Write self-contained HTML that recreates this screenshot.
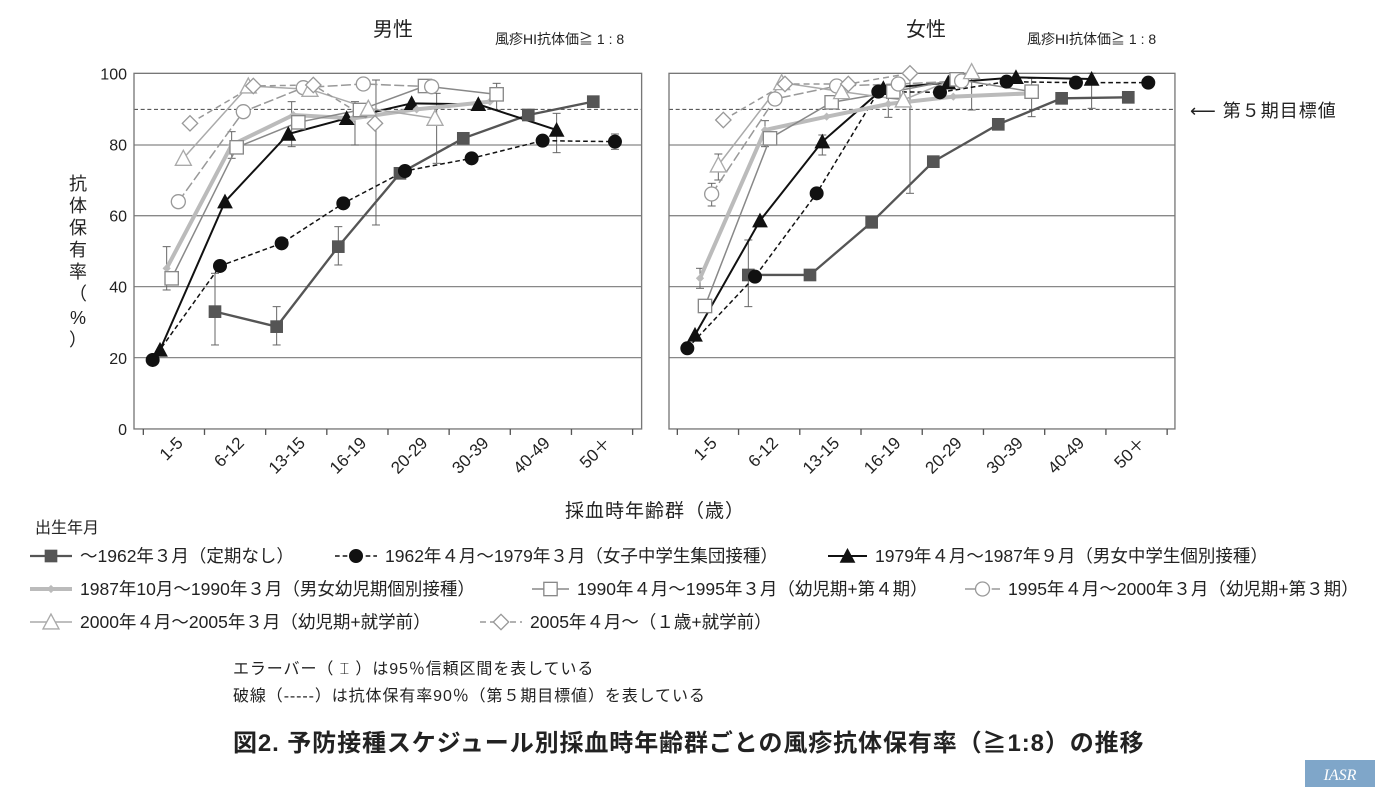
<!DOCTYPE html>
<html><head><meta charset="utf-8"><style>
body{margin:0;background:#fff;}
svg text{font-family:"Liberation Sans","Noto Sans CJK JP",sans-serif;fill:#222;}
</style></head><body>
<svg id="s" width="1400" height="797" xmlns="http://www.w3.org/2000/svg">
<text x="393" y="36" font-size="20" text-anchor="middle">男性</text>
<text x="495" y="44" font-size="14">風疹HI抗体価≧ 1 : 8</text>
<text x="926" y="36" font-size="20" text-anchor="middle">女性</text>
<text x="1027" y="44" font-size="14">風疹HI抗体価≧ 1 : 8</text>
<text x="1190" y="117" font-size="18" letter-spacing="1">⟵ 第５期目標値</text>
<g font-size="18" text-anchor="middle">
<text x="78" y="190">抗</text><text x="78" y="212">体</text><text x="78" y="234">保</text><text x="78" y="256">有</text><text x="78" y="278">率</text>
<text x="78" y="300">（</text><text x="78" y="324">%</text><text x="78" y="346">）</text></g>
<text x="655" y="517" font-size="19" text-anchor="middle" letter-spacing="1">採血時年齢群（歳）</text>
<text x="35" y="533" font-size="16">出生年月</text>
<g id="leg" font-size="17.5"></g>
<text x="233" y="674" font-size="16" letter-spacing="0.9">エラーバー（ ⌶ ）は95％信頼区間を表している</text>
<text x="233" y="701" font-size="16" letter-spacing="0.9">破線（-----）は抗体保有率90％（第５期目標値）を表している</text>
<text x="233" y="751" font-size="24" font-weight="bold" letter-spacing="0.9">図2. 予防接種スケジュール別採血時年齢群ごとの風疹抗体保有率（≧1:8）の推移</text>
<rect x="1305" y="760" width="70" height="27" fill="#7fa6c9"/>
<text x="1340" y="780" font-size="16" font-style="italic" text-anchor="middle" style="fill:#fff;font-family:'Liberation Serif',serif">IASR</text>
</svg>
<script>
const S=document.getElementById('s'),NS='http://www.w3.org/2000/svg';
function el(t,a,p){const e=document.createElementNS(NS,t);for(const k in a)e.setAttribute(k,a[k]);(p||S).appendChild(e);return e;}
const st=[
{c:'#555',w:7,d:'',m:'sq',f:'#555',s:36},
{c:'#111',w:4.5,d:'14 9',m:'ci',f:'#111',s:20},
{c:'#111',w:6,d:'',m:'tr',f:'#111',s:44},
{c:'#bbb',w:12,d:'',m:'di',f:'#bbb',s:22},
{c:'#888',w:4.5,d:'',m:'sq',f:'#fff',s:40},
{c:'#999',w:4.5,d:'30 10',m:'ci',f:'#fff',s:21},
{c:'#aaa',w:4.5,d:'',m:'tr',f:'#fff',s:48},
{c:'#999',w:4.5,d:'18 12',m:'di',f:'#fff',s:46}];
function mk(g,t,x,y,o,sc){const s=o.s*sc,sw=(o.f=='#fff'?4:2)*sc;
 if(o.m=='sq')el('rect',{x:x-s/2,y:y-s/2,width:s,height:s,fill:o.f,stroke:o.c,'stroke-width':sw},g);
 if(o.m=='ci')el('circle',{cx:x,cy:y,r:s,fill:o.f,stroke:o.c,'stroke-width':sw},g);
 if(o.m=='tr')el('polygon',{points:`${x},${y-s/2} ${x-s/2},${y+s/2.3} ${x+s/2},${y+s/2.3}`,fill:o.f,stroke:o.c,'stroke-width':sw},g);
 if(o.m=='di')el('polygon',{points:`${x},${y-s/2} ${x+s/2},${y} ${x},${y+s/2} ${x-s/2},${y}`,fill:o.f,stroke:o.c,'stroke-width':sw},g);}
function panel(ox,oy,X0,W,ticks,data,errs,labels){
 const g=el('g',{transform:`translate(${ox},${oy}) scale(0.3333)`});
 [255,467,680,893].forEach(y=>el('line',{x1:X0,x2:W,y1:y,y2:y,stroke:'#888','stroke-width':4},g));
 el('line',{x1:X0,x2:W,y1:148,y2:148,stroke:'#444','stroke-width':3,'stroke-dasharray':'12 8'},g);
 el('rect',{x:X0,y:40,width:W-X0,height:1067,fill:'none',stroke:'#777','stroke-width':4},g);
 ticks.forEach(x=>el('line',{x1:x,x2:x,y1:1107,y2:1125,stroke:'#555','stroke-width':4},g));
 errs.forEach(e=>{el('line',{x1:e[0],x2:e[0],y1:e[1],y2:e[2],stroke:'#666','stroke-width':3},g);
  [e[1],e[2]].forEach(y=>el('line',{x1:e[0]-12,x2:e[0]+12,y1:y,y2:y,stroke:'#666','stroke-width':3},g));});
 data.forEach((pts,i)=>{const o=st[i];
  el('polyline',{points:pts.map(p=>p.join(',')).join(' '),fill:'none',stroke:o.c,'stroke-width':o.w,'stroke-dasharray':o.d},g);});
 data.forEach((pts,i)=>pts.forEach(p=>mk(g,0,p[0],p[1],st[i],1)));
 for(let i=0;i<8;i++){const cx=(ticks[i]+ticks[i+1])/2;
  const t=el('text',{'font-size':17,'text-anchor':'end',transform:`translate(${ox+cx/3+10},${oy+384}) rotate(-45)`});t.textContent=labels[i];}
}
const L=['1-5','6-12','13-15','16-19','20-29','30-39','40-49','50＋'];
const tl=[0,1,2,3,4,5,6,7,8].map(i=>40+i*183.5);
panel(130,60,12,1535,tl,[
[[255,755],[440,800],[625,560],[810,340],[1000,235],[1195,165],[1390,125]],
[[68,900],[270,618],[455,550],[640,430],[825,333],[1025,295],[1238,242],[1455,245]],
[[90,870],[285,425],[475,222],[650,175],[845,130],[1045,133],[1280,210]],
[[110,625],[305,255],[490,165],[670,175],[860,148],[1080,125]],
[[125,655],[320,262],[505,187],[690,150],[885,78],[1100,103]],
[[145,425],[340,155],[520,83],[700,72],[905,80]],
[[160,295],[355,78],[540,88],[715,145],[915,175]],
[[180,190],[370,78],[550,75],[735,190]]],
[[255,640,855],[440,740,855],[625,500,615],[110,560,690],[675,125,255],[738,60,495],[920,100,310],[1280,160,278],[1455,222,268],[485,125,260],[305,215,295],[1100,70,150]],L);
const tr=[0,1,2,3,4,5,6,7,8].map(i=>52+i*183.7);
panel(660,60,27,1545,tr,[
[[265,645],[450,645],[635,487],[820,305],[1015,193],[1205,115],[1405,112]],
[[82,865],[285,650],[470,400],[655,95],[840,97],[1040,65],[1248,68],[1465,68]],
[[105,825],[300,482],[487,245],[670,85],[865,68],[1068,52],[1295,57]],
[[120,655],[315,210],[500,170],[685,132],[880,110],[1110,100]],
[[135,738],[330,235],[515,127],[700,95],[890,58],[1115,95]],
[[155,402],[345,117],[530,78],[715,72],[905,63]],
[[175,315],[365,68],[545,95],[730,120],[935,35]],
[[190,180],[375,72],[565,72],[750,40]]],
[[265,540,740],[750,40,400],[935,45,150],[1115,55,170],[1295,40,145],[120,625,685],[315,182,260],[487,225,285],[685,100,172],[155,370,438],[175,282,360]],L);
[100,80,60,40,20,0].forEach(v=>{const t=el('text',{x:127,y:60+(40+(100-v)*10.67)/3+6,'font-size':16,'text-anchor':'end'});t.textContent=v;});
const leg=document.getElementById('leg');
const items=[[0,30,80,556,'～1962年３月（定期なし）'],[1,335,385,556,'1962年４月～1979年３月（女子中学生集団接種）'],[2,828,875,556,'1979年４月～1987年９月（男女中学生個別接種）'],
[3,30,80,589,'1987年10月～1990年３月（男女幼児期個別接種）'],[4,532,577,589,'1990年４月～1995年３月（幼児期+第４期）'],[5,965,1008,589,'1995年４月～2000年３月（幼児期+第３期）'],
[6,30,80,622,'2000年４月～2005年３月（幼児期+就学前）'],[7,480,530,622,'2005年４月～（１歳+就学前）']];
items.forEach(it=>{const o=st[it[0]],y=it[3];
 el('line',{x1:it[1],x2:it[2]-8,y1:y,y2:y,stroke:o.c,'stroke-width':o.w/3,'stroke-dasharray':o.d?o.d.split(' ').map(v=>v/3).join(' '):''},leg);
 mk(leg,0,(it[1]+it[2]-8)/2,y,o,0.3333);
 const t=el('text',{x:it[2],y:y+6},leg);t.textContent=it[4];});
</script>
</body></html>
